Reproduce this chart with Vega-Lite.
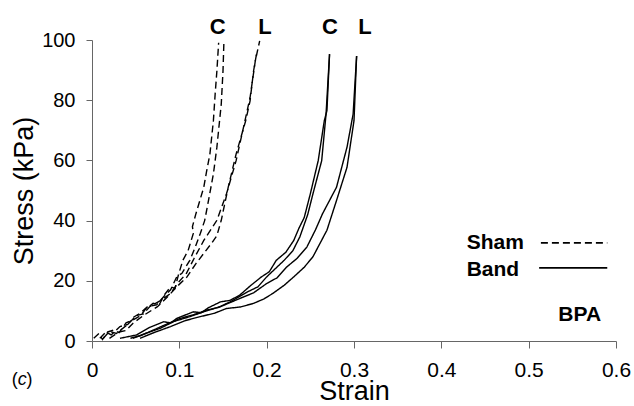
{
  "$schema": "https://vega.github.io/schema/vega-lite/v6.json",
  "autosize": {"type": "none"},
  "width": 524,
  "height": 301,
  "padding": {"left": 92, "top": 40, "right": 18, "bottom": 65},
  "background": "white",
  "config": {"view": {"stroke": null}, "font": "Liberation Sans"},
  "datasets": {
    "curves": [
      {"c":"SC1","g":"Sham","i":0,"x":0.002,"y":0.9},{"c":"SC1","g":"Sham","i":1,"x":0.008,"y":2.5},{"c":"SC1","g":"Sham","i":2,"x":0.012,"y":0.5},{"c":"SC1","g":"Sham","i":3,"x":0.018,"y":3.0},{"c":"SC1","g":"Sham","i":4,"x":0.0245,"y":3.6},{"c":"SC1","g":"Sham","i":5,"x":0.031,"y":2.8},{"c":"SC1","g":"Sham","i":6,"x":0.039,"y":6.0},{"c":"SC1","g":"Sham","i":7,"x":0.047,"y":7.0},{"c":"SC1","g":"Sham","i":8,"x":0.056,"y":8.5},{"c":"SC1","g":"Sham","i":9,"x":0.061,"y":10.5},{"c":"SC1","g":"Sham","i":10,"x":0.070,"y":12.5},{"c":"SC1","g":"Sham","i":11,"x":0.077,"y":12.0},{"c":"SC1","g":"Sham","i":12,"x":0.082,"y":15.0},{"c":"SC1","g":"Sham","i":13,"x":0.090,"y":18.0},{"c":"SC1","g":"Sham","i":14,"x":0.095,"y":17.5},{"c":"SC1","g":"Sham","i":15,"x":0.099,"y":22.0},{"c":"SC1","g":"Sham","i":16,"x":0.104,"y":26.8},{"c":"SC1","g":"Sham","i":17,"x":0.110,"y":30.0},{"c":"SC1","g":"Sham","i":18,"x":0.116,"y":35.7},{"c":"SC1","g":"Sham","i":19,"x":0.115,"y":38.0},{"c":"SC1","g":"Sham","i":20,"x":0.119,"y":42.3},{"c":"SC1","g":"Sham","i":21,"x":0.128,"y":51.1},{"c":"SC1","g":"Sham","i":22,"x":0.131,"y":56.0},{"c":"SC1","g":"Sham","i":23,"x":0.135,"y":62.1},{"c":"SC1","g":"Sham","i":24,"x":0.139,"y":73.2},{"c":"SC1","g":"Sham","i":25,"x":0.141,"y":82.0},{"c":"SC1","g":"Sham","i":26,"x":0.143,"y":89.7},{"c":"SC1","g":"Sham","i":27,"x":0.145,"y":99.1},

      {"c":"SC2","g":"Sham","i":0,"x":0.009,"y":0.9},{"c":"SC2","g":"Sham","i":1,"x":0.016,"y":3.0},{"c":"SC2","g":"Sham","i":2,"x":0.022,"y":2.0},{"c":"SC2","g":"Sham","i":3,"x":0.032,"y":4.8},{"c":"SC2","g":"Sham","i":4,"x":0.041,"y":5.5},{"c":"SC2","g":"Sham","i":5,"x":0.048,"y":8.0},{"c":"SC2","g":"Sham","i":6,"x":0.055,"y":9.2},{"c":"SC2","g":"Sham","i":7,"x":0.064,"y":11.5},{"c":"SC2","g":"Sham","i":8,"x":0.074,"y":12.0},{"c":"SC2","g":"Sham","i":9,"x":0.082,"y":14.7},{"c":"SC2","g":"Sham","i":10,"x":0.090,"y":17.0},{"c":"SC2","g":"Sham","i":11,"x":0.097,"y":21.3},{"c":"SC2","g":"Sham","i":12,"x":0.103,"y":22.5},{"c":"SC2","g":"Sham","i":13,"x":0.112,"y":26.8},{"c":"SC2","g":"Sham","i":14,"x":0.118,"y":31.0},{"c":"SC2","g":"Sham","i":15,"x":0.124,"y":35.7},{"c":"SC2","g":"Sham","i":16,"x":0.129,"y":40.0},{"c":"SC2","g":"Sham","i":17,"x":0.132,"y":44.5},{"c":"SC2","g":"Sham","i":18,"x":0.139,"y":55.5},{"c":"SC2","g":"Sham","i":19,"x":0.143,"y":64.4},{"c":"SC2","g":"Sham","i":20,"x":0.148,"y":78.7},{"c":"SC2","g":"Sham","i":21,"x":0.150,"y":89.7},{"c":"SC2","g":"Sham","i":22,"x":0.151,"y":99.1},

      {"c":"SL1","g":"Sham","i":0,"x":0.013,"y":0.9},{"c":"SL1","g":"Sham","i":1,"x":0.020,"y":3.2},{"c":"SL1","g":"Sham","i":2,"x":0.028,"y":2.5},{"c":"SL1","g":"Sham","i":3,"x":0.040,"y":5.3},{"c":"SL1","g":"Sham","i":4,"x":0.051,"y":8.5},{"c":"SL1","g":"Sham","i":5,"x":0.059,"y":9.0},{"c":"SL1","g":"Sham","i":6,"x":0.066,"y":11.4},{"c":"SL1","g":"Sham","i":7,"x":0.079,"y":13.5},{"c":"SL1","g":"Sham","i":8,"x":0.090,"y":15.8},{"c":"SL1","g":"Sham","i":9,"x":0.099,"y":19.5},{"c":"SL1","g":"Sham","i":10,"x":0.108,"y":22.4},{"c":"SL1","g":"Sham","i":11,"x":0.117,"y":27.5},{"c":"SL1","g":"Sham","i":12,"x":0.128,"y":33.4},{"c":"SL1","g":"Sham","i":13,"x":0.143,"y":40.1},{"c":"SL1","g":"Sham","i":14,"x":0.154,"y":48.9},{"c":"SL1","g":"Sham","i":15,"x":0.165,"y":59.9},{"c":"SL1","g":"Sham","i":16,"x":0.176,"y":74.3},{"c":"SL1","g":"Sham","i":17,"x":0.181,"y":80.9},{"c":"SL1","g":"Sham","i":18,"x":0.187,"y":93.1},{"c":"SL1","g":"Sham","i":19,"x":0.192,"y":99.7},

      {"c":"SL2","g":"Sham","i":0,"x":0.020,"y":0.9},{"c":"SL2","g":"Sham","i":1,"x":0.031,"y":3.0},{"c":"SL2","g":"Sham","i":2,"x":0.039,"y":3.5},{"c":"SL2","g":"Sham","i":3,"x":0.047,"y":5.9},{"c":"SL2","g":"Sham","i":4,"x":0.059,"y":8.5},{"c":"SL2","g":"Sham","i":5,"x":0.075,"y":11.4},{"c":"SL2","g":"Sham","i":6,"x":0.086,"y":14.5},{"c":"SL2","g":"Sham","i":7,"x":0.097,"y":18.0},{"c":"SL2","g":"Sham","i":8,"x":0.108,"y":21.0},{"c":"SL2","g":"Sham","i":9,"x":0.119,"y":25.7},{"c":"SL2","g":"Sham","i":10,"x":0.129,"y":29.5},{"c":"SL2","g":"Sham","i":11,"x":0.137,"y":32.5},{"c":"SL2","g":"Sham","i":12,"x":0.143,"y":35.0},{"c":"SL2","g":"Sham","i":13,"x":0.148,"y":40.1},{"c":"SL2","g":"Sham","i":14,"x":0.156,"y":51.1},{"c":"SL2","g":"Sham","i":15,"x":0.165,"y":62.1},{"c":"SL2","g":"Sham","i":16,"x":0.176,"y":73.2},{"c":"SL2","g":"Sham","i":17,"x":0.181,"y":79.8},{"c":"SL2","g":"Sham","i":18,"x":0.185,"y":89.7},{"c":"SL2","g":"Sham","i":19,"x":0.189,"y":96.4},

      {"c":"BC1","g":"Band","i":0,"x":0.032,"y":0.9},{"c":"BC1","g":"Band","i":1,"x":0.051,"y":2.0},{"c":"BC1","g":"Band","i":2,"x":0.066,"y":4.5},{"c":"BC1","g":"Band","i":3,"x":0.082,"y":6.4},{"c":"BC1","g":"Band","i":4,"x":0.090,"y":6.0},{"c":"BC1","g":"Band","i":5,"x":0.097,"y":7.5},{"c":"BC1","g":"Band","i":6,"x":0.116,"y":9.7},{"c":"BC1","g":"Band","i":7,"x":0.125,"y":9.4},{"c":"BC1","g":"Band","i":8,"x":0.133,"y":11.0},{"c":"BC1","g":"Band","i":9,"x":0.147,"y":13.0},{"c":"BC1","g":"Band","i":10,"x":0.158,"y":13.5},{"c":"BC1","g":"Band","i":11,"x":0.169,"y":15.2},{"c":"BC1","g":"Band","i":12,"x":0.182,"y":18.5},{"c":"BC1","g":"Band","i":13,"x":0.194,"y":21.3},{"c":"BC1","g":"Band","i":14,"x":0.203,"y":23.0},{"c":"BC1","g":"Band","i":15,"x":0.211,"y":26.8},{"c":"BC1","g":"Band","i":16,"x":0.222,"y":29.5},{"c":"BC1","g":"Band","i":17,"x":0.231,"y":33.4},{"c":"BC1","g":"Band","i":18,"x":0.237,"y":37.5},{"c":"BC1","g":"Band","i":19,"x":0.243,"y":41.0},{"c":"BC1","g":"Band","i":20,"x":0.250,"y":48.9},{"c":"BC1","g":"Band","i":21,"x":0.259,"y":59.9},{"c":"BC1","g":"Band","i":22,"x":0.266,"y":73.2},{"c":"BC1","g":"Band","i":23,"x":0.269,"y":76.5},{"c":"BC1","g":"Band","i":24,"x":0.272,"y":95.3},

      {"c":"BC2","g":"Band","i":0,"x":0.044,"y":0.9},{"c":"BC2","g":"Band","i":1,"x":0.056,"y":1.8},{"c":"BC2","g":"Band","i":2,"x":0.070,"y":3.6},{"c":"BC2","g":"Band","i":3,"x":0.087,"y":5.8},{"c":"BC2","g":"Band","i":4,"x":0.101,"y":7.5},{"c":"BC2","g":"Band","i":5,"x":0.117,"y":8.8},{"c":"BC2","g":"Band","i":6,"x":0.132,"y":10.3},{"c":"BC2","g":"Band","i":7,"x":0.145,"y":11.2},{"c":"BC2","g":"Band","i":8,"x":0.158,"y":13.0},{"c":"BC2","g":"Band","i":9,"x":0.178,"y":16.3},{"c":"BC2","g":"Band","i":10,"x":0.190,"y":18.0},{"c":"BC2","g":"Band","i":11,"x":0.200,"y":21.3},{"c":"BC2","g":"Band","i":12,"x":0.220,"y":26.8},{"c":"BC2","g":"Band","i":13,"x":0.230,"y":30.0},{"c":"BC2","g":"Band","i":14,"x":0.238,"y":34.6},{"c":"BC2","g":"Band","i":15,"x":0.247,"y":42.0},{"c":"BC2","g":"Band","i":16,"x":0.253,"y":48.9},{"c":"BC2","g":"Band","i":17,"x":0.263,"y":59.9},{"c":"BC2","g":"Band","i":18,"x":0.268,"y":75.4},{"c":"BC2","g":"Band","i":19,"x":0.272,"y":95.3},

      {"c":"BL1","g":"Band","i":0,"x":0.047,"y":0.9},{"c":"BL1","g":"Band","i":1,"x":0.061,"y":2.5},{"c":"BL1","g":"Band","i":2,"x":0.078,"y":4.2},{"c":"BL1","g":"Band","i":3,"x":0.094,"y":6.5},{"c":"BL1","g":"Band","i":4,"x":0.112,"y":8.1},{"c":"BL1","g":"Band","i":5,"x":0.131,"y":10.0},{"c":"BL1","g":"Band","i":6,"x":0.147,"y":11.4},{"c":"BL1","g":"Band","i":7,"x":0.169,"y":14.1},{"c":"BL1","g":"Band","i":8,"x":0.185,"y":16.0},{"c":"BL1","g":"Band","i":9,"x":0.200,"y":19.1},{"c":"BL1","g":"Band","i":10,"x":0.212,"y":21.0},{"c":"BL1","g":"Band","i":11,"x":0.223,"y":24.6},{"c":"BL1","g":"Band","i":12,"x":0.235,"y":27.5},{"c":"BL1","g":"Band","i":13,"x":0.246,"y":31.2},{"c":"BL1","g":"Band","i":14,"x":0.256,"y":37.0},{"c":"BL1","g":"Band","i":15,"x":0.264,"y":42.3},{"c":"BL1","g":"Band","i":16,"x":0.280,"y":51.1},{"c":"BL1","g":"Band","i":17,"x":0.292,"y":64.4},{"c":"BL1","g":"Band","i":18,"x":0.299,"y":75.4},{"c":"BL1","g":"Band","i":19,"x":0.303,"y":94.7},

      {"c":"BL2","g":"Band","i":0,"x":0.055,"y":0.9},{"c":"BL2","g":"Band","i":1,"x":0.071,"y":2.8},{"c":"BL2","g":"Band","i":2,"x":0.090,"y":4.8},{"c":"BL2","g":"Band","i":3,"x":0.107,"y":6.8},{"c":"BL2","g":"Band","i":4,"x":0.124,"y":8.1},{"c":"BL2","g":"Band","i":5,"x":0.140,"y":9.2},{"c":"BL2","g":"Band","i":6,"x":0.154,"y":10.8},{"c":"BL2","g":"Band","i":7,"x":0.170,"y":11.3},{"c":"BL2","g":"Band","i":8,"x":0.185,"y":12.5},{"c":"BL2","g":"Band","i":9,"x":0.197,"y":14.0},{"c":"BL2","g":"Band","i":10,"x":0.207,"y":15.8},{"c":"BL2","g":"Band","i":11,"x":0.220,"y":18.5},{"c":"BL2","g":"Band","i":12,"x":0.231,"y":21.3},{"c":"BL2","g":"Band","i":13,"x":0.243,"y":24.5},{"c":"BL2","g":"Band","i":14,"x":0.253,"y":28.0},{"c":"BL2","g":"Band","i":15,"x":0.269,"y":36.8},{"c":"BL2","g":"Band","i":16,"x":0.280,"y":46.7},{"c":"BL2","g":"Band","i":17,"x":0.292,"y":57.7},{"c":"BL2","g":"Band","i":18,"x":0.300,"y":73.2},{"c":"BL2","g":"Band","i":19,"x":0.303,"y":94.7}
    ],
    "labels": [
      {"t":"C","x":0.144,"y":104.3},
      {"t":"L","x":0.198,"y":104.3},
      {"t":"C","x":0.2725,"y":104.3},
      {"t":"L","x":0.3126,"y":104.3}
    ],
    "legendText": [
      {"t":"Sham","x":0.429,"y":32.6},
      {"t":"Band","x":0.429,"y":23.6},
      {"t":"BPA","x":0.534,"y":8.6}
    ],
    "legendLines": [
      {"g":"Sham","x":0.514,"x2":0.590,"y":32.6},
      {"g":"Band","x":0.512,"x2":0.590,"y":24.3}
    ],
    "parens": [{"t":"(","x":-0.0885,"y":-13},{"t":")","x":-0.0715,"y":-13}],
    "panelLetter": [{"t":"c","x":-0.0800,"y":-13}]
  },
  "layer": [
    {
      "data": {"name": "curves"},
      "mark": {"type": "line", "stroke": "black", "strokeWidth": 1.4},
      "encoding": {
        "x": {"field": "x", "type": "quantitative", "scale": {"domain": [0, 0.6]},
          "axis": {"title": "Strain", "values": [0, 0.1, 0.2, 0.3, 0.4, 0.5, 0.6], "format": "~g", "grid": false,
            "domainColor": "#666", "tickColor": "#666", "tickSize": 7, "labelFontSize": 21, "labelColor": "black",
            "labelPadding": 11, "titleFontSize": 27, "titleFontWeight": "normal", "titleColor": "black", "titlePadding": -2, "labelFlush": false}},
        "y": {"field": "y", "type": "quantitative", "scale": {"domain": [0, 100]},
          "axis": {"title": "Stress (kPa)", "values": [0, 20, 40, 60, 80, 100], "grid": false,
            "domainColor": "#666", "tickColor": "#666", "tickSize": 6, "labelFontSize": 20, "labelColor": "black",
            "labelPadding": 11, "titleFontSize": 27, "titleFontWeight": "normal", "titleColor": "black", "titlePadding": 3}},
        "detail": {"field": "c"},
        "order": {"field": "i", "type": "quantitative"},
        "strokeDash": {"field": "g", "type": "nominal", "scale": {"domain": ["Sham", "Band"], "range": [[7, 4], [1, 0]]}, "legend": null}
      }
    },
    {
      "data": {"name": "legendLines"},
      "mark": {"type": "rule", "stroke": "black", "strokeWidth": 1.8},
      "encoding": {
        "x": {"field": "x", "type": "quantitative"},
        "x2": {"field": "x2"},
        "y": {"field": "y", "type": "quantitative"},
        "strokeDash": {"field": "g", "type": "nominal", "scale": {"domain": ["Sham", "Band"], "range": [[17, 7], [1, 0]]}, "legend": null}
      }
    },
    {
      "data": {"name": "labels"},
      "mark": {"type": "text", "fontSize": 22, "fontWeight": "bold", "align": "center", "baseline": "middle", "font": "Liberation Sans"},
      "encoding": {
        "x": {"field": "x", "type": "quantitative"},
        "y": {"field": "y", "type": "quantitative"},
        "text": {"field": "t"}
      }
    },
    {
      "data": {"name": "legendText"},
      "mark": {"type": "text", "fontSize": 21, "fontWeight": "bold", "align": "left", "baseline": "middle", "font": "Liberation Sans"},
      "encoding": {
        "x": {"field": "x", "type": "quantitative"},
        "y": {"field": "y", "type": "quantitative"},
        "text": {"field": "t"}
      }
    },
    {
      "data": {"name": "parens"},
      "mark": {"type": "text", "fontSize": 18, "align": "center", "baseline": "middle", "font": "Liberation Sans"},
      "encoding": {
        "x": {"field": "x", "type": "quantitative"},
        "y": {"field": "y", "type": "quantitative"},
        "text": {"field": "t"}
      }
    },
    {
      "data": {"name": "panelLetter"},
      "mark": {"type": "text", "fontSize": 18, "fontStyle": "italic", "align": "center", "baseline": "middle", "font": "Liberation Sans"},
      "encoding": {
        "x": {"field": "x", "type": "quantitative"},
        "y": {"field": "y", "type": "quantitative"},
        "text": {"field": "t"}
      }
    }
  ]
}
